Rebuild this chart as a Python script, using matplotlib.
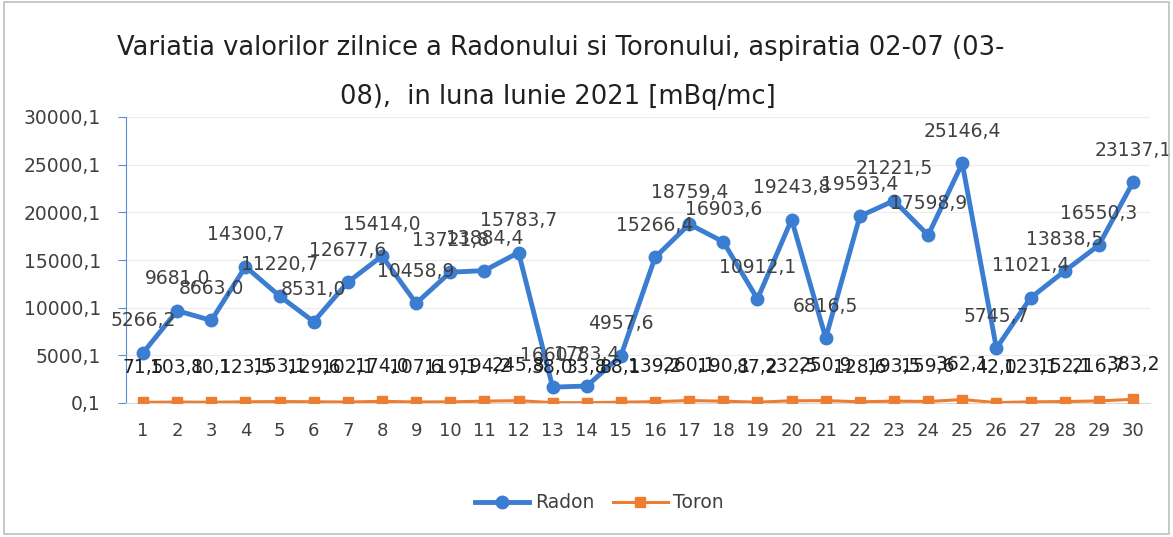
import numpy as np
import matplotlib.pyplot as plt
from matplotlib.patches import Rectangle

days = list(range(1, 31))
radon = [5266.2, 9681.0, 8663.0, 14300.7, 11220.7, 8531.0, 12677.6, 15414.0, 10458.9, 13721.8,
         13884.4, 15783.7, 1660.7, 1783.4, 4957.6, 15266.4, 18759.4, 16903.6, 10912.1, 19243.8,
         6816.5, 19593.4, 21221.5, 17598.9, 25146.4, 5745.7, 11021.4, 13838.5, 16550.3, 23137.1]
toron = [71.5, 103.1, 80.1, 123.5, 153.1, 129.6, 102.1, 174.0, 107.6, 119.1,
         194.2, 245.8, 38.0, 33.8, 88.1, 139.2, 260.1, 190.1, 87.2, 232.5,
         250.9, 128.6, 193.5, 159.6, 362.1, 42.0, 123.1, 152.1, 216.7, 383.2]
yticks = [0.1, 5000.1, 10000.1, 15000.1, 20000.1, 25000.1, 30000.1]

title1 = "Variatia valorilor zilnice a Radonului si Toronului, aspiratia 02-07 (03-"
title2 = "08),  in luna Iunie 2021 [mBq/mc]"

blue = "#3b7dd0"
orange = "#ed7d31"


def fmt(v):
    return f"{v:.1f}".replace(".", ",")


def main():
    fig = plt.figure(figsize=(11.73, 5.37), dpi=100)
    ax = fig.add_axes([126 / 1173, 1 - 403 / 537, (1150 - 126) / 1173, (403 - 117) / 537])

    ax.plot(days, radon, color=blue, lw=3.5, marker="o", ms=9, label="Radon", zorder=3)
    ax.plot(days, toron, color=orange, lw=2.2, marker="s", ms=7, label="Toron", zorder=3)

    for d, v in zip(days, radon):
        ax.annotate(fmt(v), (d, v), xytext=(0, 23), textcoords="offset points",
                    ha="center", va="center", fontsize=13.5, color="#404040")
    for d, v in zip(days, toron):
        ax.annotate(fmt(v), (d, v), xytext=(0, 25), textcoords="offset points",
                    ha="center", va="center", fontsize=13.5, color="#202020")

    ax.set_xlim(0.5, 30.5)
    ax.set_ylim(0.1, 30000.1)
    ax.set_xticks(days)
    ax.set_yticks(yticks)
    ax.set_yticklabels([fmt(t) for t in yticks])
    ax.tick_params(axis="x", length=0, labelsize=13, pad=14, colors="#404040")
    ax.tick_params(axis="y", length=6, labelsize=13.5, pad=12, color="#5b8fd0", labelcolor="#404040")
    ax.yaxis.grid(True, color="#ececec", lw=0.8)
    ax.set_axisbelow(True)
    for s in ["top", "right"]:
        ax.spines[s].set_visible(False)
    ax.spines["left"].set_color("#5b8fd0")
    ax.spines["bottom"].set_color("#d9d9d9")

    fig.text(0.478, 1 - 48 / 537, title1, ha="center", va="center",
             fontsize=18.5, color="#202020")
    fig.text(0.476, 1 - 97 / 537, title2, ha="center", va="center",
             fontsize=18.5, color="#202020")

    fig.legend(loc="center", bbox_to_anchor=(0.511, 1 - 503 / 537), ncol=2, frameon=False,
               fontsize=13.5, handlelength=2.9, handletextpad=0.3, columnspacing=1.0,
               labelcolor="#404040")

    fig.patches.append(Rectangle((0.003, 0.006), 0.994, 0.99, transform=fig.transFigure,
                                 fill=False, edgecolor="#bfbfbf", lw=1.2))

    plt.savefig("out.png", dpi=100)


if __name__ == "__main__":
    main()
